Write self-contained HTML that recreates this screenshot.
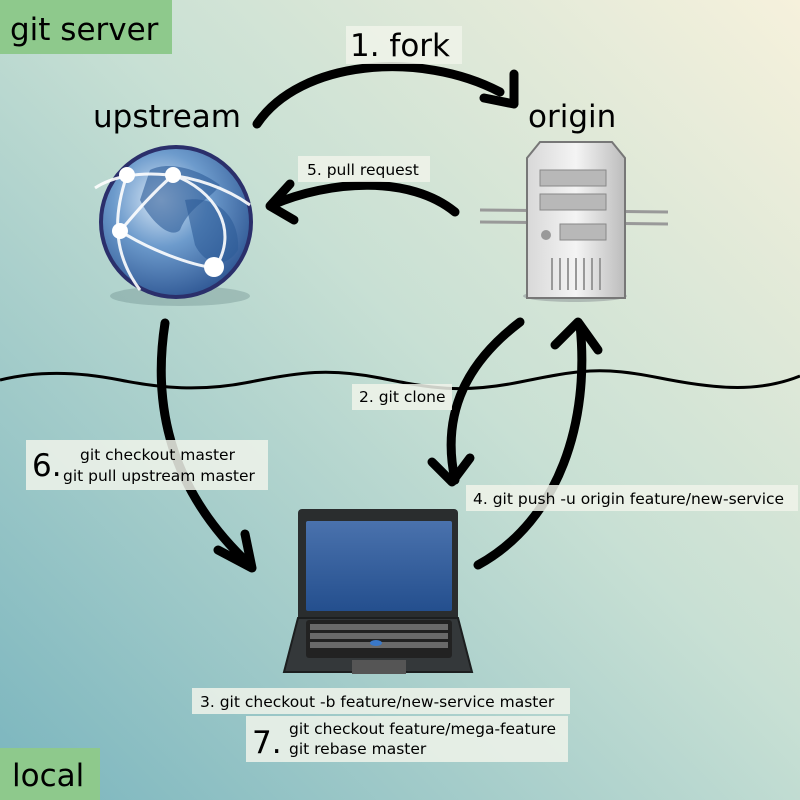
<!DOCTYPE html>
<html><head><style>
body{margin:0;width:800px;height:800px;overflow:hidden}
svg{display:block}
text{font-family:"DejaVu Sans","Liberation Sans",sans-serif;fill:#000}
</style></head><body>
<svg width="800" height="800" viewBox="0 0 800 800" xmlns="http://www.w3.org/2000/svg">
<defs>
<linearGradient id="bg" x1="1" y1="0" x2="0" y2="1">
<stop offset="0" stop-color="#f6f1dc"/>
<stop offset="0.45" stop-color="#c8e0d4"/>
<stop offset="1" stop-color="#7ab5be"/>
</linearGradient>
<radialGradient id="globe" cx="0.4" cy="0.35" r="0.7">
<stop offset="0" stop-color="#dbe9f7"/>
<stop offset="0.45" stop-color="#6d9bcc"/>
<stop offset="1" stop-color="#2d5592"/>
</radialGradient>
<linearGradient id="srv" x1="0" y1="0" x2="1" y2="0">
<stop offset="0" stop-color="#d8d8d8"/><stop offset="0.5" stop-color="#f4f4f4"/><stop offset="1" stop-color="#bcbcbc"/>
</linearGradient>
<linearGradient id="scr" x1="0" y1="0" x2="0" y2="1">
<stop offset="0" stop-color="#4a72ad"/><stop offset="1" stop-color="#244f8e"/>
</linearGradient>
</defs>
<rect width="800" height="800" fill="url(#bg)"/>
<path d="M0 380 C40 370 80 372 120 380 S200 392 250 382 S330 368 380 378 S460 394 520 382 S600 366 660 378 S760 392 800 376" fill="none" stroke="#000" stroke-width="3"/>
<!-- arrows -->
<g fill="none" stroke="#000" stroke-width="9" stroke-linecap="round" stroke-linejoin="round">
<path d="M257 124 C300 60 420 50 500 92"/>
<path d="M484 98 L514 104 L514 74"/>
<path d="M455 212 C410 175 330 180 272 205"/>
<path d="M290 184 L270 206 L294 220"/>
<path d="M165 323 C150 420 180 500 250 565"/>
<path d="M218 550 L252 568 L245 534"/>
<path d="M520 322 C470 360 440 410 455 480"/>
<path d="M432 462 L452 482 L470 458"/>
<path d="M478 565 C560 520 590 420 580 325"/>
<path d="M555 345 L578 322 L598 350"/>
</g>
<!-- label boxes -->
<rect x="0" y="0" width="172" height="54" fill="#8ec98c"/>
<text x="10" y="40" font-size="31">git server</text>
<rect x="0" y="748" width="100" height="52" fill="#8ec98c"/>
<text x="12" y="786" font-size="31">local</text>
<rect x="346" y="26" width="116" height="38" fill="#f0f3ea" opacity="0.85"/>
<text x="350" y="56" font-size="31">1. fork</text>
<text x="93" y="127" font-size="31">upstream</text>
<text x="528" y="127" font-size="31">origin</text>
<rect x="298" y="156" width="132" height="26" fill="#f0f3ea" opacity="0.85"/>
<text x="307" y="175" font-size="15.5">5. pull request</text>
<rect x="352" y="384" width="100" height="26" fill="#f0f3ea" opacity="0.85"/>
<text x="359" y="402" font-size="15.5">2. git clone</text>
<rect x="26" y="440" width="242" height="50" fill="#f0f3ea" opacity="0.85"/>
<text x="32" y="476" font-size="31">6.</text>
<text x="80" y="460" font-size="15.5">git checkout master</text>
<text x="63" y="481" font-size="15.5">git pull upstream master</text>
<rect x="466" y="485" width="332" height="26" fill="#f0f3ea" opacity="0.85"/>
<text x="473" y="504" font-size="15.5">4. git push -u origin feature/new-service</text>
<rect x="192" y="688" width="378" height="26" fill="#f0f3ea" opacity="0.85"/>
<text x="200" y="707" font-size="15.5">3. git checkout -b feature/new-service master</text>
<rect x="246" y="716" width="322" height="46" fill="#f0f3ea" opacity="0.85"/>
<text x="252" y="753" font-size="31">7.</text>
<text x="289" y="734" font-size="15.5">git checkout feature/mega-feature</text>
<text x="289" y="754" font-size="15.5">git rebase master</text>
<!-- globe -->
<ellipse cx="180" cy="296" rx="70" ry="10" fill="#5a7a7a" opacity="0.3"/>
<circle cx="176" cy="222" r="75" fill="url(#globe)" stroke="#2b2f6b" stroke-width="4"/>
<path d="M150 170 C170 160 200 170 220 185 C210 200 190 205 180 230 C170 240 150 220 140 200Z" fill="#2d5c98" opacity="0.6"/>
<path d="M185 200 C215 195 240 215 238 250 C225 270 205 265 195 245Z" fill="#2d5c98" opacity="0.6"/>
<g fill="none" stroke="#fff" stroke-width="3" opacity="0.9">
<path d="M95 188 C130 165 200 170 250 205"/>
<path d="M120 231 C150 250 190 265 215 268"/>
<path d="M127 175 C115 210 110 250 140 290"/>
<path d="M173 175 C145 200 130 220 120 231"/>
<path d="M173 175 C215 190 240 230 215 268"/>
</g>
<g fill="#fff"><circle cx="127" cy="175" r="8"/><circle cx="173" cy="175" r="8"/><circle cx="120" cy="231" r="8"/><circle cx="214" cy="267" r="10"/></g>
<!-- server -->
<line x1="480" y1="210" x2="668" y2="212" stroke="#999" stroke-width="3"/>
<line x1="480" y1="222" x2="668" y2="224" stroke="#999" stroke-width="3"/>
<ellipse cx="575" cy="296" rx="52" ry="6" fill="#556" opacity="0.3"/>
<path d="M527 158 L540 142 L612 142 L625 158 L625 298 L527 298Z" fill="url(#srv)" stroke="#777" stroke-width="2"/>
<rect x="540" y="170" width="66" height="16" fill="#b8b8b8" stroke="#888"/>
<rect x="540" y="194" width="66" height="16" fill="#b8b8b8" stroke="#888"/>
<rect x="560" y="224" width="46" height="16" fill="#b8b8b8" stroke="#888"/>
<circle cx="546" cy="235" r="5" fill="#999"/>
<g stroke="#999" stroke-width="2"><line x1="552" y1="258" x2="552" y2="290"/><line x1="560" y1="258" x2="560" y2="290"/><line x1="568" y1="258" x2="568" y2="290"/><line x1="576" y1="258" x2="576" y2="290"/><line x1="584" y1="258" x2="584" y2="290"/><line x1="592" y1="258" x2="592" y2="290"/><line x1="600" y1="258" x2="600" y2="290"/></g>
<!-- laptop -->
<rect x="298" y="509" width="160" height="114" rx="4" fill="#2a2d2e"/>
<rect x="306" y="521" width="146" height="90" rx="2" fill="url(#scr)"/>
<path d="M298 618 L458 618 L472 672 L284 672Z" fill="#34383a" stroke="#1c1e1f" stroke-width="2"/>
<rect x="306" y="620" width="146" height="38" rx="3" fill="#222"/>
<g fill="#6a6a6a">
<rect x="310" y="624" width="138" height="6"/>
<rect x="310" y="633" width="138" height="6"/>
<rect x="310" y="642" width="138" height="6"/>
</g>
<rect x="352" y="660" width="54" height="14" fill="#555"/>
<ellipse cx="376" cy="643" rx="6" ry="3" fill="#3a78c8"/>
</svg>
</body></html>
